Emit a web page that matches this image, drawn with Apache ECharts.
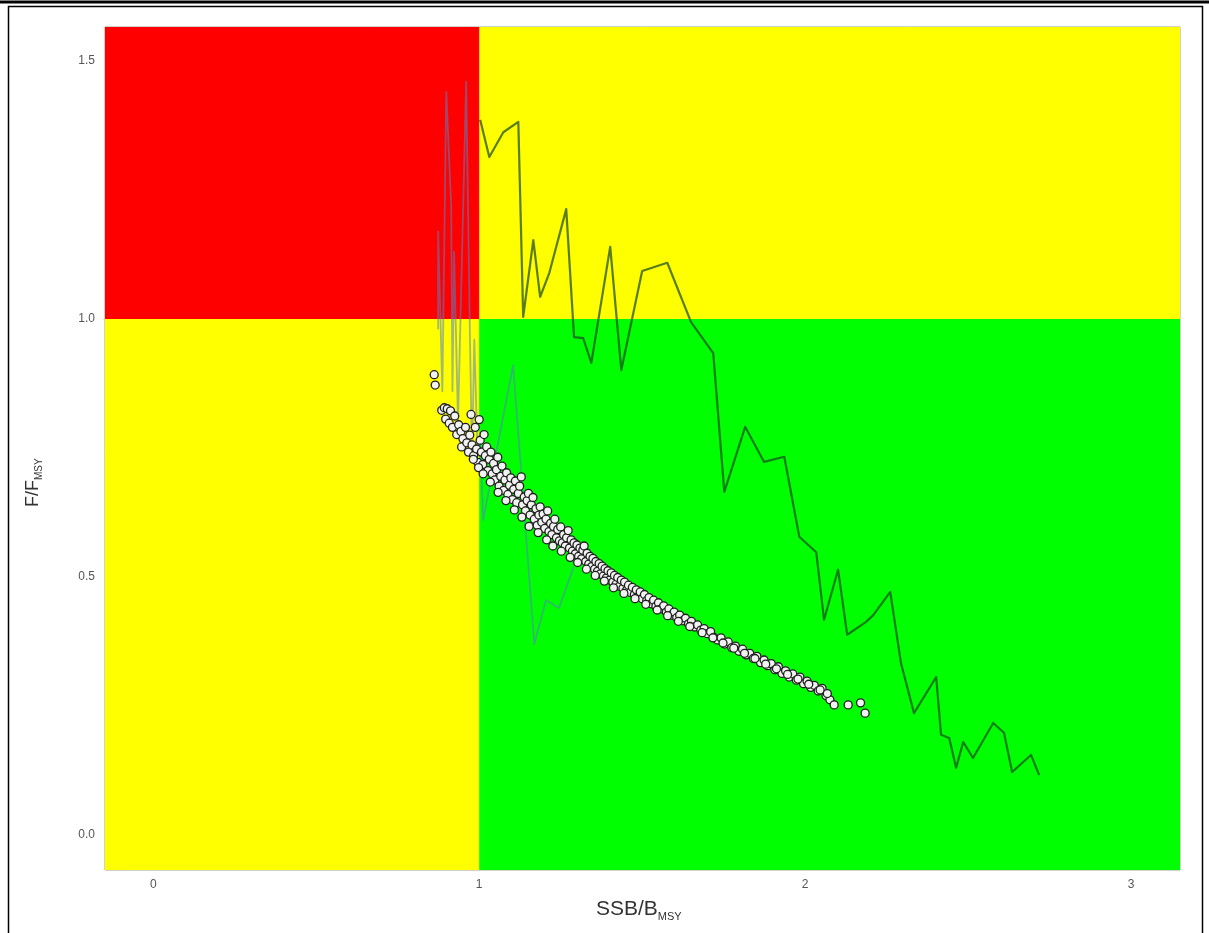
<!DOCTYPE html>
<html>
<head>
<meta charset="utf-8">
<script src="https://cdn.jsdelivr.net/npm/echarts@6/dist/echarts.min.js"></script>
<style>
  html, body { margin: 0; padding: 0; background: #ffffff; }
  #chart { width: 1209px; height: 933px; }
</style>
</head>
<body>
<div id="chart"></div>
<script>
// Axis ranges and tick positions
const xRange = [-0.148, 3.15];
const yRange = [-0.068, 1.566];
const xTicks = [0, 1, 2, 3];
const yTicks = [0, 0.5, 1, 1.5];

// Reference points (stock status thresholds)
const bRef = 1.0;
const fRef = 1.0;

// Historical trajectory, early segment (thin line)
const histAX = [0.874, 0.874, 0.887, 0.899, 0.914, 0.918, 0.923, 0.935, 0.960, 0.972, 0.978, 0.985, 0.995, 1.003, 1.012, 1.104, 1.169, 1.205, 1.245, 1.290];
const histAY = [0.98, 1.17, 0.86, 1.44, 1.22, 0.86, 1.13, 0.80, 1.46, 0.95, 0.73, 0.96, 0.74, 0.77, 0.61, 0.91, 0.37, 0.455, 0.44, 0.52];

// Historical trajectory, main segment (dark line)
const histBX = [1.003, 1.031, 1.074, 1.120, 1.135, 1.166, 1.187, 1.215, 1.267, 1.291, 1.319, 1.344, 1.402, 1.436, 1.500, 1.577, 1.650, 1.718, 1.752, 1.816, 1.874, 1.936, 1.982, 2.034, 2.058, 2.101, 2.129, 2.187, 2.209, 2.261, 2.294, 2.334, 2.402, 2.417, 2.442, 2.463, 2.485, 2.515, 2.577, 2.610, 2.635, 2.693, 2.718];
const histBY = [1.386, 1.314, 1.362, 1.382, 1.004, 1.153, 1.043, 1.089, 1.213, 0.965, 0.963, 0.915, 1.140, 0.901, 1.093, 1.109, 0.994, 0.934, 0.665, 0.791, 0.723, 0.733, 0.578, 0.548, 0.417, 0.514, 0.388, 0.413, 0.426, 0.471, 0.333, 0.236, 0.306, 0.194, 0.188, 0.130, 0.180, 0.149, 0.217, 0.198, 0.122, 0.155, 0.116];

// Projected stock states (SSB/Bmsy, F/Fmsy)
const projSSB = [0.862, 0.865, 0.885, 0.893, 0.902, 0.912, 0.897, 0.908, 0.918, 0.925, 0.931, 0.937, 0.944, 0.950, 0.946, 0.958, 0.962, 0.967, 0.971, 0.975, 0.978, 0.983, 0.988, 0.992, 0.996, 1.000, 1.003, 1.007, 1.011, 1.015, 1.019, 1.023, 1.027, 1.031, 1.036, 1.040, 1.044, 1.048, 1.053, 1.057, 1.061, 1.066, 1.070, 1.075, 1.079, 1.084, 1.088, 1.093, 1.097, 1.102, 1.106, 1.111, 1.115, 1.120, 1.124, 1.129, 1.133, 1.138, 1.142, 1.147, 1.151, 1.156, 1.160, 1.165, 1.169, 1.174, 1.178, 1.183, 1.187, 1.192, 1.196, 1.201, 1.205, 1.210, 1.214, 1.219, 1.223, 1.228, 1.232, 1.237, 1.241, 1.246, 1.250, 1.255, 1.259, 1.264, 1.268, 1.273, 1.277, 1.282, 1.286, 1.291, 1.295, 1.300, 1.305, 1.309, 1.314, 1.318, 1.322, 1.327, 1.331, 1.336, 1.340, 1.345, 1.349, 1.354, 1.358, 1.363, 1.368, 1.372, 1.377, 1.381, 1.386, 1.390, 1.395, 1.400, 1.405, 1.410, 1.415, 1.420, 1.425, 1.430, 1.436, 1.441, 1.446, 1.452, 1.458, 1.464, 1.470, 1.476, 1.482, 1.488, 1.494, 1.500, 1.507, 1.514, 1.521, 1.528, 1.535, 1.542, 1.550, 1.558, 1.566, 1.574, 1.582, 1.590, 1.598, 1.606, 1.615, 1.624, 1.633, 1.642, 1.651, 1.660, 1.670, 1.680, 1.690, 1.700, 1.710, 1.720, 1.731, 1.742, 1.753, 1.764, 1.775, 1.786, 1.797, 1.808, 1.819, 1.830, 1.841, 1.852, 1.863, 1.874, 1.885, 1.896, 1.907, 1.918, 1.929, 1.940, 1.951, 1.962, 1.973, 1.984, 1.995, 2.006, 2.017, 2.028, 2.040, 2.052, 2.064, 2.076, 2.089, 2.132, 2.170, 2.184,
  0.982, 0.998, 1.012, 1.034, 1.058, 1.082, 1.108, 1.131, 1.153, 1.181, 1.207, 1.226, 1.252, 1.279, 1.302, 1.329, 1.356, 1.384, 1.412, 1.444, 1.478, 1.511, 1.546, 1.578, 1.611, 1.646, 1.684, 1.717, 1.748, 1.781, 1.814, 1.846, 1.879, 1.912, 1.946, 1.978, 2.011, 2.046, 2.068];
const projF = [0.892, 0.872, 0.823, 0.828, 0.826, 0.822, 0.806, 0.798, 0.790, 0.812, 0.776, 0.795, 0.782, 0.768, 0.752, 0.790, 0.760, 0.742, 0.775, 0.815, 0.756, 0.735, 0.790, 0.748, 0.722, 0.805, 0.765, 0.742, 0.718, 0.776, 0.735, 0.752, 0.706, 0.728, 0.742, 0.700, 0.720, 0.688, 0.708, 0.732, 0.676, 0.695, 0.715, 0.668, 0.688, 0.702, 0.660, 0.678, 0.692, 0.650, 0.670, 0.686, 0.644, 0.662, 0.676, 0.694, 0.640, 0.655, 0.628, 0.648, 0.662, 0.620, 0.640, 0.654, 0.612, 0.632, 0.600, 0.620, 0.636, 0.606, 0.622, 0.594, 0.612, 0.628, 0.588, 0.604, 0.582, 0.598, 0.612, 0.576, 0.592, 0.570, 0.597, 0.566, 0.582, 0.560, 0.576, 0.590, 0.556, 0.572, 0.550, 0.566, 0.545, 0.562, 0.540, 0.556, 0.535, 0.552, 0.560, 0.530, 0.546, 0.525, 0.540, 0.520, 0.536, 0.515, 0.530, 0.511, 0.526, 0.506, 0.521, 0.502, 0.516, 0.498, 0.512, 0.494, 0.508, 0.490, 0.503, 0.486, 0.499, 0.482, 0.494, 0.478, 0.490, 0.474, 0.484, 0.470, 0.480, 0.466, 0.475, 0.462, 0.471, 0.458, 0.466, 0.454, 0.460, 0.448, 0.455, 0.443, 0.450, 0.438, 0.444, 0.432, 0.438, 0.426, 0.432, 0.421, 0.426, 0.415, 0.420, 0.409, 0.414, 0.403, 0.407, 0.397, 0.400, 0.390, 0.394, 0.383, 0.378, 0.382, 0.370, 0.374, 0.363, 0.366, 0.356, 0.360, 0.349, 0.352, 0.342, 0.346, 0.334, 0.339, 0.328, 0.332, 0.320, 0.326, 0.313, 0.318, 0.306, 0.312, 0.300, 0.306, 0.293, 0.298, 0.286, 0.290, 0.279, 0.284, 0.270, 0.262, 0.252, 0.252, 0.256, 0.236,
  0.728, 0.712, 0.700, 0.684, 0.664, 0.648, 0.630, 0.616, 0.598, 0.586, 0.572, 0.560, 0.550, 0.538, 0.528, 0.515, 0.503, 0.492, 0.479, 0.468, 0.458, 0.447, 0.436, 0.425, 0.414, 0.404, 0.392, 0.382, 0.372, 0.362, 0.352, 0.342, 0.331, 0.322, 0.311, 0.302, 0.292, 0.281, 0.274];

const zip = (xs, ys) => xs.map((x, i) => [x, ys[i]]);

const chart = echarts.init(document.getElementById('chart'), null, { renderer: 'canvas' });

const labelFont = 'Liberation Sans, Arial, sans-serif';
const titleFont = 'Liberation Sans, Arial, sans-serif';

const option = {
  animation: false,
  backgroundColor: '#ffffff',
  grid: {
    left: 105, right: 29, top: 27, bottom: 63,
    show: true,
    borderColor: 'rgba(90,90,50,0.55)',
    borderWidth: 1
  },
  xAxis: {
    type: 'value',
    min: xRange[0], max: xRange[1],
    axisLine: { show: false },
    splitLine: { show: false },
    axisTick: { show: true, customValues: xTicks, length: 5, lineStyle: { color: '#666', width: 1 } },
    axisLabel: {
      customValues: xTicks, margin: 9, color: '#555', fontSize: 12, fontFamily: labelFont,
      formatter: v => String(v)
    }
  },
  yAxis: {
    type: 'value',
    min: yRange[0], max: yRange[1],
    axisLine: { show: false },
    splitLine: { show: false },
    axisTick: { show: true, customValues: yTicks, length: 5, lineStyle: { color: '#666', width: 1 } },
    axisLabel: {
      customValues: yTicks, margin: 10, color: '#555', fontSize: 12, fontFamily: labelFont,
      formatter: v => v.toFixed(1)
    }
  },
  series: [
    {
      // Kobe quadrants: yellow base, then the red (overfished & overfishing) and green (healthy) zones
      type: 'line',
      data: [],
      silent: true,
      z: 1,
      markArea: {
        silent: true,
        data: [
          [{ xAxis: xRange[0], yAxis: yRange[0], itemStyle: { color: '#ffff00', opacity: 1 } }, { xAxis: xRange[1], yAxis: yRange[1] }],
          [{ xAxis: xRange[0], yAxis: fRef, itemStyle: { color: '#ff0000', opacity: 1 } }, { xAxis: bRef, yAxis: yRange[1] }],
          [{ xAxis: bRef, yAxis: yRange[0], itemStyle: { color: '#00ff00', opacity: 1 } }, { xAxis: xRange[1], yAxis: fRef }]
        ]
      }
    },
    {
      type: 'line',
      data: zip(histAX, histAY),
      showSymbol: false,
      silent: true,
      z: 3,
      lineStyle: { color: 'rgba(85,130,195,0.55)', width: 1.8, join: 'round' }
    },
    {
      type: 'line',
      data: zip(histBX, histBY),
      showSymbol: false,
      silent: true,
      z: 4,
      lineStyle: { color: 'rgba(25,75,35,0.72)', width: 2.2, join: 'round' }
    },
    {
      type: 'scatter',
      data: zip(projSSB, projF),
      symbol: 'circle',
      symbolSize: 8,
      silent: true,
      z: 5,
      itemStyle: { color: '#f2f2f2', borderColor: '#1e1e1e', borderWidth: 1.3, opacity: 1 }
    }
  ],
  graphic: [
    // page frame
    { type: 'rect', shape: { x: 0, y: 0.5, width: 1209, height: 3 }, style: { fill: '#000' }, silent: true },
    { type: 'rect', shape: { x: 8.5, y: 6.5, width: 1194, height: 940 }, style: { fill: null, stroke: '#000', lineWidth: 1.5 }, silent: true },
    // axis titles
    {
      type: 'text', left: 596, top: 899, silent: true,
      style: {
        text: '{a|SSB/B}{b|MSY}',
        fill: '#333',
        rich: {
          a: { fontSize: 21, lineHeight: 26, fontFamily: titleFont, fill: '#333' },
          b: { fontSize: 11, lineHeight: 6, verticalAlign: 'bottom', fontFamily: titleFont, fill: '#333' }
        }
      }
    },
    {
      type: 'text', x: 22, y: 507, rotation: Math.PI / 2, silent: true,
      style: {
        text: '{a|F/F}{b|MSY}',
        fill: '#333',
        rich: {
          a: { fontSize: 18, lineHeight: 22, fontFamily: titleFont, fill: '#333' },
          b: { fontSize: 10, lineHeight: 6, verticalAlign: 'bottom', fontFamily: titleFont, fill: '#333' }
        }
      }
    }
  ]
};

chart.setOption(option);
</script>
</body>
</html>
